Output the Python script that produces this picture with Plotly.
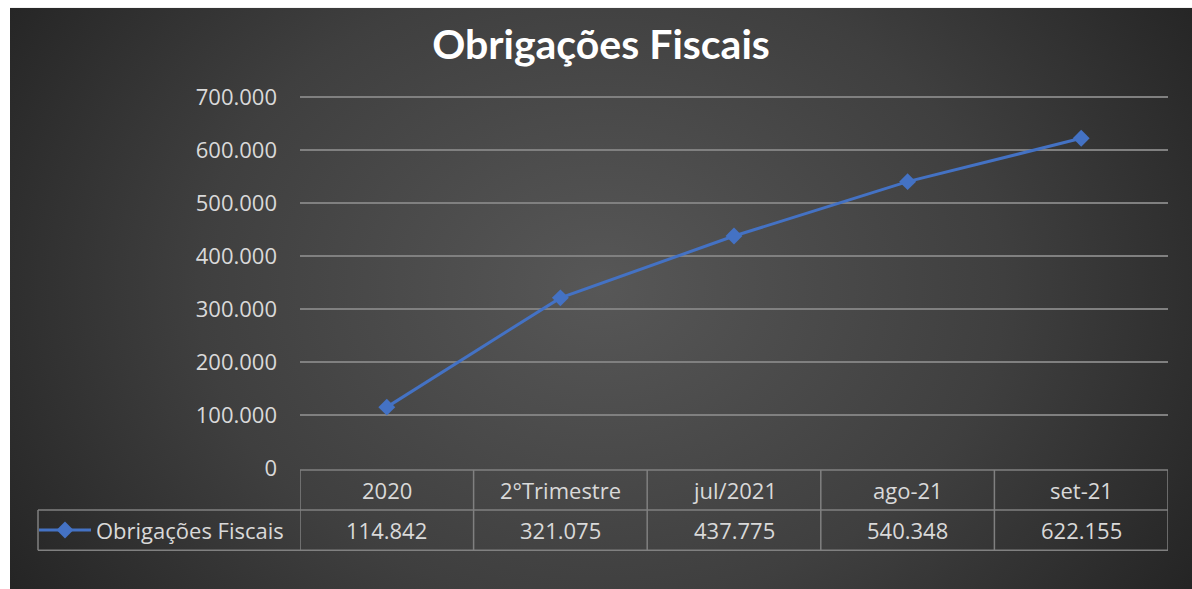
import base64
import plotly.graph_objects as go

# ---- data ----
categories = ["2020", "2°Trimestre", "jul/2021", "ago-21", "set-21"]
values = [114842, 321075, 437775, 540348, 622155]
series_name = "Obrigações Fiscais"
y_ticks = [0, 100000, 200000, 300000, 400000, 500000, 600000, 700000]
title_text = "Obrigações Fiscais"

# ---- layout geometry (pixels) ----
W, H = 1192, 589
L, R, T, B = 300, 24, 97, 121
pw, ph = W - L - R, H - T - B


def px_x(p):
    return (p - L) / pw


def px_y(p):
    return (H - B - p) / ph


BLUE = "#4472C4"
GRID = "#808080"
TXT = "#d9d9d9"
FONT = "Open Sans"

svg = """<svg xmlns='http://www.w3.org/2000/svg' width='1182' height='580' viewBox='0 0 1182 580' preserveAspectRatio='none'>
<defs><radialGradient id='g' cx='50%' cy='48%' r='62%' gradientTransform='translate(0.5,0.48) scale(1,1.6) translate(-0.5,-0.48)'>
<stop offset='0' stop-color='#575757'/><stop offset='0.55' stop-color='#3f3f3f'/><stop offset='1' stop-color='#222222'/></radialGradient></defs>
<rect width='1182' height='580' fill='url(#g)'/></svg>"""
src = "data:image/svg+xml;base64," + base64.b64encode(svg.encode()).decode()

xs = list(range(len(categories)))

fig = go.Figure()
fig.add_trace(go.Scatter(
    x=xs, y=values, mode="lines+markers", name=series_name,
    line=dict(color=BLUE, width=3),
    marker=dict(symbol="diamond", size=13, color=BLUE),
    cliponaxis=False,
))

shapes = []
line_style = dict(color=GRID, width=1.5)
y_top, y_mid, y_bot = px_y(470), px_y(510), px_y(550)
n = len(categories)
# horizontal lines
shapes.append(dict(type="line", xref="x", yref="paper", x0=-0.5, x1=n - 0.5, y0=y_top, y1=y_top, line=line_style))
for yy in (y_mid, y_bot):
    shapes.append(dict(type="line", xref="paper", yref="paper", x0=px_x(38), x1=1, y0=yy, y1=yy, line=line_style))
# vertical lines
for k in range(n + 1):
    shapes.append(dict(type="line", xref="x", yref="paper", x0=k - 0.5, x1=k - 0.5, y0=y_top, y1=y_bot, line=line_style))
shapes.append(dict(type="line", xref="paper", yref="paper", x0=px_x(38), x1=px_x(38), y0=y_mid, y1=y_bot, line=line_style))

annotations = []
for i, (c, v) in enumerate(zip(categories, values)):
    annotations.append(dict(x=i, xref="x", y=px_y(490), yref="paper", text=c, showarrow=False,
                            font=dict(family=FONT, size=22, color=TXT), xanchor="center", yanchor="middle"))
    annotations.append(dict(x=i, xref="x", y=px_y(530), yref="paper", text=f"{v:,}".replace(",", "."),
                            showarrow=False, font=dict(family=FONT, size=22, color=TXT),
                            xanchor="center", yanchor="middle"))

fig.update_layout(
    width=W, height=H,
    margin=dict(l=L, r=R, t=T - 1, b=B),
    paper_bgcolor="white", plot_bgcolor="rgba(0,0,0,0)",
    separators=",.",
    title=dict(text=f"<b>{title_text}</b>", x=(10 + 1192) / 2 / W, xanchor="center",
               y=1 - 45 / H, yanchor="middle",
               font=dict(family="Lato", size=41, color="white")),
    images=[dict(source=src, xref="paper", yref="paper", x=px_x(10), y=px_y(9),
                 sizex=1182 / pw, sizey=580 / ph, sizing="stretch", layer="below",
                 xanchor="left", yanchor="top")],
    xaxis=dict(range=[-0.5, n - 0.5], showgrid=False, zeroline=False, showticklabels=False,
               showline=False, ticks=""),
    yaxis=dict(range=[0, 702000], tickvals=y_ticks, tickformat=",.0f", showgrid=True,
               gridcolor=GRID, gridwidth=1.5, zeroline=False, showline=False,
               tickfont=dict(family=FONT, size=22, color=TXT), ticklabelstandoff=22),
    showlegend=True,
    legend=dict(x=px_x(34), y=px_y(530), xanchor="left", yanchor="middle",
                bgcolor="rgba(0,0,0,0)", font=dict(family=FONT, size=22, color=TXT),
                itemwidth=52),
    shapes=shapes,
    annotations=annotations,
)

fig.write_html("out.html", config={"displayModeBar": False},
               post_script="document.body.style.margin='0';document.body.style.overflow='hidden';")
